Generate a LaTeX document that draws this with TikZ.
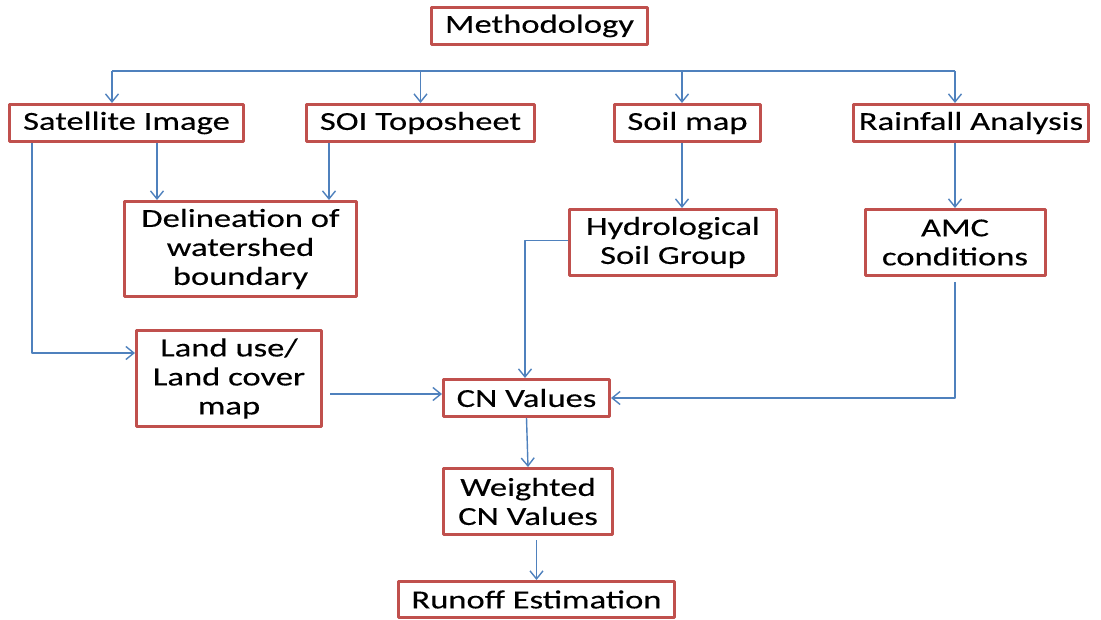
\documentclass[tikz,border=0pt]{standalone}
\usepackage{fontspec}
\setmainfont[FakeStretch=1.33,FakeBold=0.25]{Carlito}
\usetikzlibrary{arrows.meta}
\definecolor{boxred}{RGB}{192,80,77}
\definecolor{linkblue}{RGB}{79,129,189}
\begin{document}
\begin{tikzpicture}[x=1pt, y=-1pt, line join=round,
	box/.style={draw=boxred, line width=3pt, rectangle, inner sep=0pt, align=center,
		font=\fontsize{26}{29}\selectfont},
	link/.style={draw=linkblue, line width=1.4pt, -{Straight Barb[length=8pt,width=13pt,line width=1.4pt]}}]
		\useasboundingbox (0,0) rectangle (1101,620);
		% boxes
		\node[box, minimum width=216, minimum height=37] (meth) at (539.5,26) {Methodology};
		\node[box, minimum width=234, minimum height=37] (sat) at (126.5,123) {Satellite Image};
		\node[box, minimum width=228, minimum height=37] (soi) at (420.5,123) {SOI Toposheet};
		\node[box, minimum width=146, minimum height=37] (soil) at (687.5,123) {Soil map};
		\node[box, minimum width=235, minimum height=37] (rain) at (971,123) {Rainfall Analysis};
		\node[box, minimum width=232, minimum height=95] (delin) at (240.5,249) {Delineation of\\watershed\\boundary};
		\node[box, minimum width=207, minimum height=66] (hydro) at (673,242.5) {Hydrological\\Soil Group};
		\node[box, minimum width=180, minimum height=66] (amc) at (955,242.5) {AMC\\conditions};
		\node[box, minimum width=185, minimum height=96] (land) at (229,378.5) {Land use/\\Land cover\\map};
		\node[box, minimum width=166, minimum height=37] (cn) at (526.5,398) {CN Values};
		\node[box, minimum width=169, minimum height=66] (wcn) at (528,501.5) {Weighted\\CN Values};
		\node[box, minimum width=276, minimum height=36] (run) at (536.5,599.5) {Runoff Estimation};
		% bus from methodology
		\coordinate (busL) at (112,71);
		\coordinate (busR) at (955,71);
		\draw[link, -] (busL) -- (busR);
		\draw[link] (busL) -- (busL |- sat.north);
		\draw[link] (soi.north |- busL) -- (soi.north);
		\draw[link] ([xshift=-5.5]soil.north |- busL) -- ([xshift=-5.5]soil.north);
		\draw[link] (busR) -- (busR |- rain.north);
		% second row
		\draw[link] ([xshift=30.5]sat.south) -- ([xshift=30.5]sat.south |- delin.north);
		\draw[link] ([xshift=-91.5]soi.south) -- ([xshift=-91.5]soi.south |- delin.north);
		\draw[link] ([xshift=-5.5]soil.south) -- ([xshift=-5.5]soil.south |- hydro.north);
		\draw[link] (rain.south -| amc.north) -- (amc.north);
		% into land use and cn
		\draw[link] ([xshift=24]sat.south west) |- ([yshift=25.5]land.west);
		\draw[link] ([yshift=2]hydro.west) -| ([xshift=-1.5]cn.north);
		\draw[link] ([yshift=-5]amc.south) |- (cn.east);
		\draw[link] ([xshift=7,yshift=-15.5]land.east) -- ([yshift=4]cn.west);
		% down to runoff
		\draw[link] (cn.south) -- (wcn.north);
		\draw[link] ([yshift=-4]wcn.south -| run.north) -- (run.north);
\end{tikzpicture}
\end{document}
